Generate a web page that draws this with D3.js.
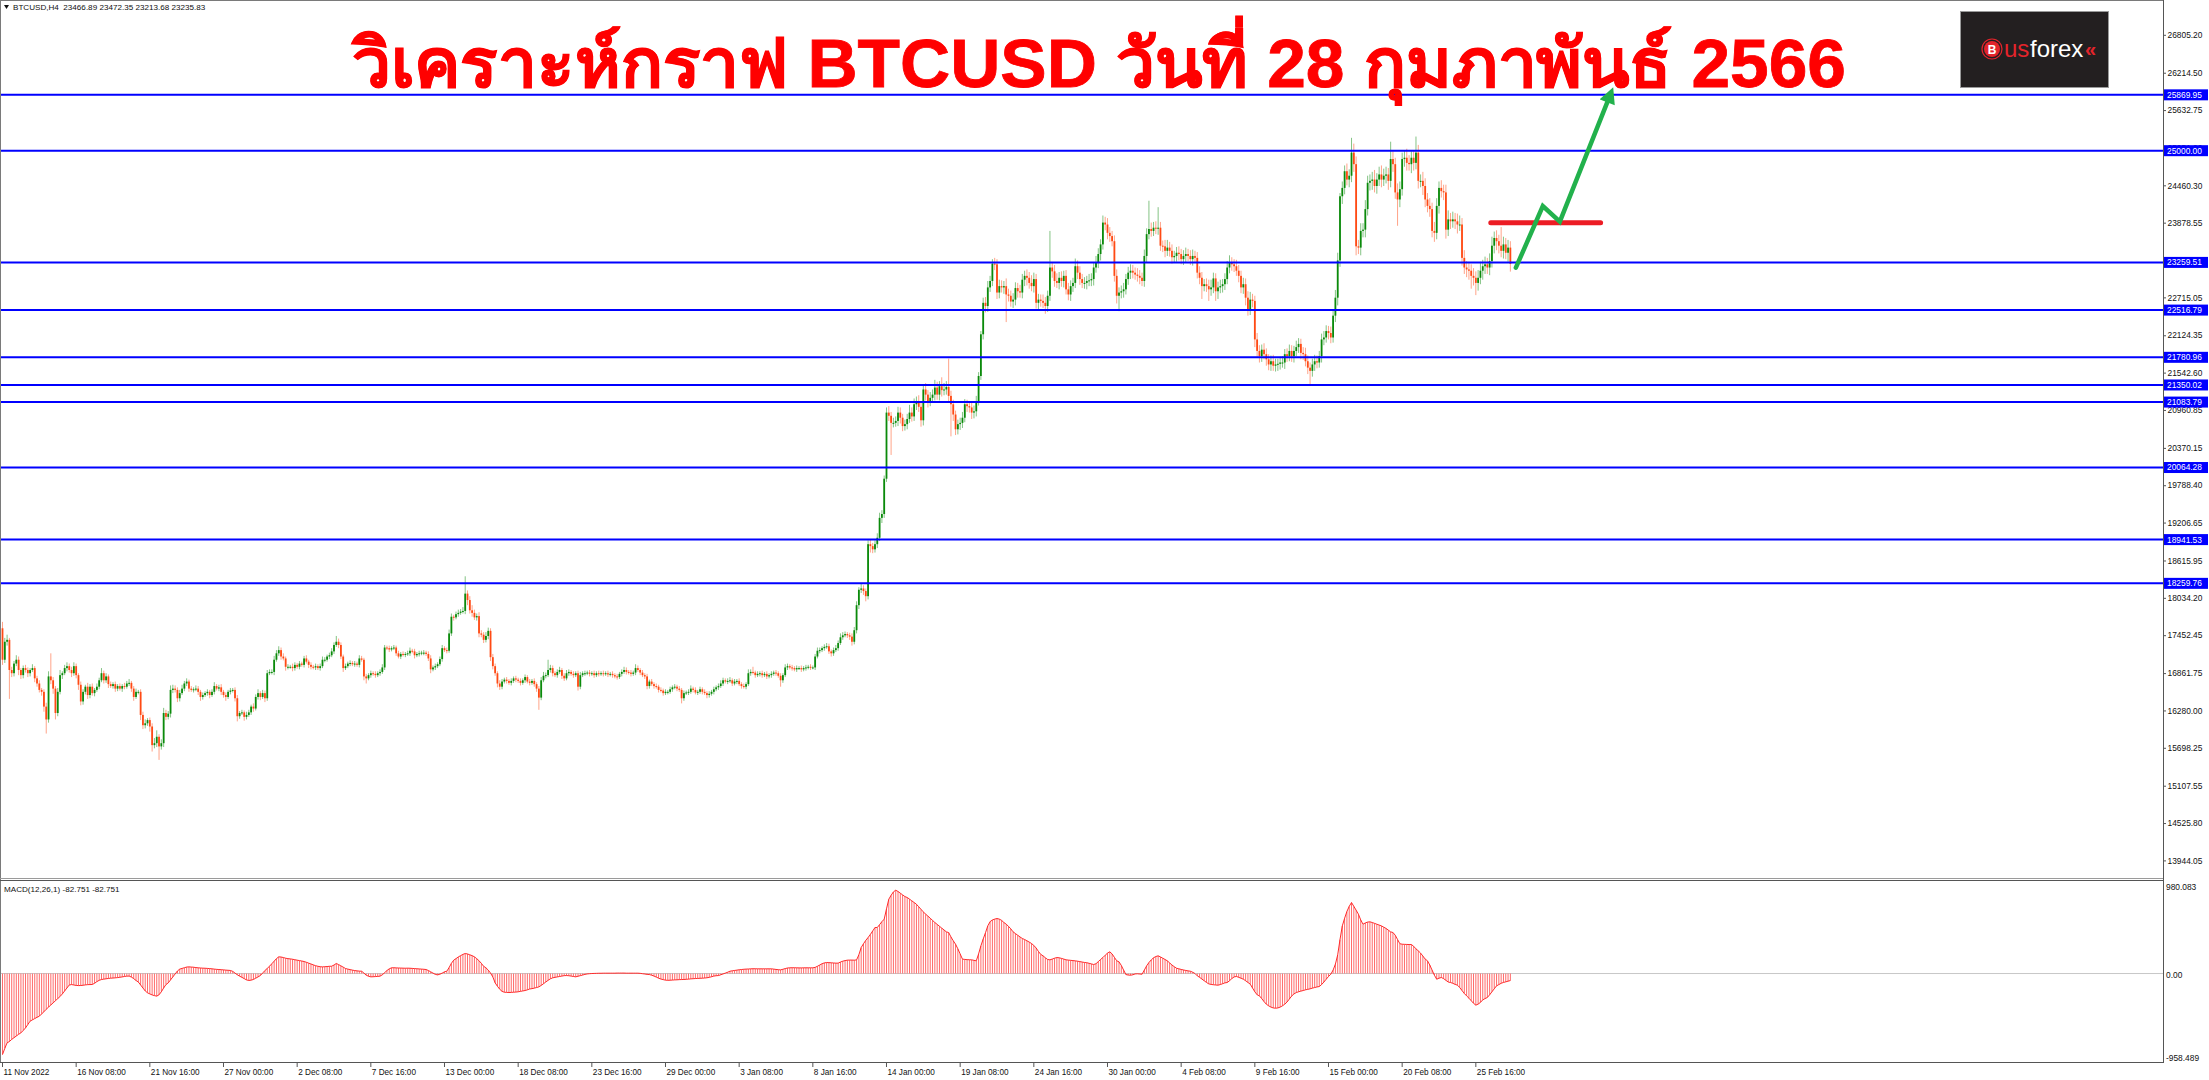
<!DOCTYPE html>
<html><head><meta charset="utf-8">
<script src="https://cdn.jsdelivr.net/npm/d3@7"></script>
<style>
body{margin:0;background:#fff;}
svg{display:block;}
text{font-family:"Liberation Sans",Arial,sans-serif;}
</style>
</head><body>
<svg id="c" width="2209" height="1080"></svg>
<script>
// ---------------- DATA ----------------
const symbolHeader = "BTCUSD,H4  23466.89 23472.35 23213.68 23235.83";
const macdHeader = "MACD(12,26,1) -82.751 -82.751";
const titleText = "วิเคราะห์กราฟ BTCUSD วันที่ 28 กุมภาพันธ์ 2566";
const logoParts = ["us", "forex", "«"];

const dateLabels = ["11 Nov 2022","16 Nov 08:00","21 Nov 16:00","27 Nov 00:00","2 Dec 08:00","7 Dec 16:00","13 Dec 00:00","18 Dec 08:00","23 Dec 16:00","29 Dec 00:00","3 Jan 08:00","8 Jan 16:00","14 Jan 00:00","19 Jan 08:00","24 Jan 16:00","30 Jan 00:00","4 Feb 08:00","9 Feb 16:00","15 Feb 00:00","20 Feb 08:00","25 Feb 16:00"];
const dateLabelIdx = [0,32,64,96,128,160,192,224,256,288,320,352,384,416,448,480,512,544,576,608,640];

const priceTicks = [26805.20,26214.50,25632.75,25051.00,24460.30,23878.55,23296.80,22715.05,22124.35,21542.60,20960.85,20370.15,19788.40,19206.65,18615.95,18034.20,17452.45,16861.75,16280.00,15698.25,15107.55,14525.80,13944.05];
const levels = [25869.95,25000.00,23259.51,22516.79,21780.96,21350.02,21083.79,20064.28,18941.53,18259.76];

const macdTop = 980.083, macdBottom = -958.489;

const firstOpen = 17560;
const closes = [
17070,17350,17380,16910,16860,17010,17070,16910,16830,16940,
16910,16860,16910,16940,16780,16700,16600,16570,16340,16140,
16810,16750,16620,16240,16570,16830,16860,16940,16970,16910,
16860,16970,16830,16680,16420,16570,16650,16520,16650,16550,
16600,16650,16750,16860,16750,16810,16690,16660,16690,16620,
16660,16620,16660,16650,16700,16710,16620,16490,16570,16570,
16210,16050,16080,16130,16030,15740,15770,15870,15720,15770,
16240,16180,16230,16600,16620,16600,16470,16550,16620,16700,
16730,16620,16600,16610,16620,16570,16490,16520,16550,16570,
16520,16570,16660,16620,16640,16570,16520,16490,16570,16590,
16600,16470,16190,16240,16250,16180,16210,16250,16340,16310,
16490,16550,16490,16550,16470,16860,16880,16880,17070,17170,
17220,17120,17090,16960,16960,16960,16940,16990,16960,17010,
16990,17090,17040,16990,16960,16950,16970,16940,16970,17070,
17070,17120,17140,17200,17300,17350,17300,17120,16940,16970,
17010,17020,17000,17010,16990,17090,17070,16810,16780,16830,
16860,16850,16830,16860,16880,16950,17260,17250,17230,17250,
17260,17170,17120,17160,17150,17160,17170,17210,17200,17140,
17160,17170,17180,17180,17160,17090,16920,16950,16970,17000,
17080,17250,17220,17210,17480,17740,17730,17780,17800,17820,
17830,18100,18000,17840,17800,17730,17750,17480,17460,17380,
17440,17520,17110,16970,16860,16700,16650,16730,16760,16740,
16710,16740,16780,16760,16740,16710,16750,16800,16730,16710,
16740,16690,16620,16480,16750,16820,16830,16910,16940,16860,
16830,16880,16910,16820,16780,16860,16880,16850,16830,16860,
16650,16830,16860,16860,16870,16850,16860,16830,16860,16850,
16860,16850,16860,16840,16850,16830,16810,16800,16850,16880,
16910,16880,16870,16850,16870,16940,16910,16870,16830,16810,
16660,16730,16690,16660,16650,16600,16590,16550,16570,16570,
16610,16640,16650,16620,16600,16470,16550,16560,16570,16620,
16600,16560,16570,16610,16570,16550,16520,16540,16570,16610,
16640,16660,16700,16750,16730,16740,16750,16700,16730,16740,
16690,16660,16650,16690,16860,16880,16870,16830,16850,16860,
16830,16850,16810,16830,16850,16870,16860,16820,16750,16830,
16950,16970,16950,16940,16920,16940,16940,16920,16940,16950,
16960,16950,16950,17120,17210,17220,17250,17270,17280,17200,
17170,17220,17250,17330,17420,17450,17470,17450,17430,17350,
17530,17920,18160,18180,18140,18060,18870,18840,18790,18870,
18970,19280,19340,19890,20920,20870,20760,20760,20790,20920,
20840,20710,20740,20820,20920,20860,21050,21070,21010,20800,
21280,21200,21100,21150,21200,21310,21200,21330,21270,21280,
21320,21180,21050,20890,20660,20740,20760,20840,21050,21020,
21000,20920,20940,21100,21490,22140,22630,22580,22870,22970,
23240,23230,22790,22890,22870,22890,22760,22740,22650,22680,
22860,22810,22790,22990,23050,23020,22940,22890,23000,22630,
22680,22660,22630,22580,22740,23180,23120,22970,22940,23020,
22970,23050,22840,22760,22890,22940,23200,23100,23000,22940,
22940,22970,22980,23000,23180,23260,23390,23540,23880,23850,
23720,23670,23590,23050,22740,22790,22810,22840,23000,23100,
23130,23100,23070,23050,23020,22970,23360,23700,23780,23750,
23800,23790,23800,23520,23510,23440,23490,23440,23340,23360,
23410,23390,23310,23360,23390,23360,23310,23360,23330,23100,
23020,22890,22920,22890,22840,22870,23010,22810,22870,22890,
22920,23000,23180,23250,23230,23200,23130,23050,22870,22920,
22710,22530,22680,22660,22060,21880,21800,21900,21830,21750,
21670,21720,21650,21670,21680,21700,21700,21830,21800,21880,
21800,21880,21940,21990,21850,21830,21720,21620,21570,21670,
21720,21700,21800,22060,22090,22190,22160,22090,22430,22710,
23290,24290,24420,24680,24550,24610,24970,24790,23510,23490,
23750,23770,24090,24500,24530,24550,24450,24550,24630,24550,
24610,24630,24530,24870,24790,24350,24240,24400,24870,24890,
24810,24790,24890,24810,24970,24530,24530,24450,24240,24140,
24090,23750,23720,24140,24420,24370,24350,23770,23930,23900,
23930,23900,23850,23850,23330,23180,23150,23130,23050,23020,
22940,23020,23130,23200,23230,23180,23280,23520,23640,23590,
23520,23440,23540,23410,23490,23236];

// upper / lower wick lengths, in units of 10 USD
const wickUp = [
10,6,8,3,5,4,7,5,3,4, 5,4,3,6,3,4,5,3,4,6, 8,36,5,4,6,8,3,5,6,4, 5,6,4,3,5,4,3,6,4,5,
3,5,4,8,4,5,3,4,3,4, 3,4,3,5,4,6,3,4,5,3, 4,5,6,3,4,5,8,10,4,6, 8,5,4,7,6,5,4,5,6,4,
5,3,4,3,5,4,3,4,3,4, 3,4,6,3,4,5,3,4,3,4, 3,4,5,3,4,3,5,4,3,5, 4,6,3,5,4,5,4,4,6,5,
6,4,5,3,4,3,5,4,3,4, 3,4,5,3,4,3,4,3,4,5, 4,3,4,5,4,9,5,4,3,4, 3,4,3,4,3,5,4,3,4,3,
4,3,4,3,4,5,4,3,4,3, 4,3,4,3,4,3,4,5,3,4, 3,4,3,4,3,4,5,3,4,3, 4,5,3,4,6,5,3,4,5,4,
6,27,5,6,8,5,4,6,5,4, 6,5,4,5,4,3,5,4,3,4, 3,4,3,4,3,4,3,4,3,4, 3,4,3,4,5,6,4,16,5,4,
3,4,5,3,4,5,4,3,4,3, 4,5,3,4,3,4,3,4,3,4, 3,4,3,4,3,4,3,4,3,4, 5,4,3,4,3,6,4,3,4,3,
4,3,4,3,4,3,4,3,4,3, 4,3,4,3,4,3,4,3,4,5, 3,4,3,4,3,4,3,4,3,4, 3,4,5,4,3,4,5,3,4,3,
4,3,4,3,6,4,8,3,4,3, 4,3,4,3,4,3,4,3,4,3, 5,4,3,4,3,4,3,4,3,4, 3,4,3,4,5,4,3,4,5,4,
3,4,5,4,6,5,4,3,4,5, 5,6,4,8,5,4,6,8,5,6, 7,8,6,5,8,10,6,8,7,9, 8,6,7,8,12,8,9,10,12,7,
8,10,7,9,8,12,9,8,14,10, 9,44,8,7,6,7,8,9,8,7, 8,7,9,8,6,5,8,9,10,8, 7,9,8,10,9,8,12,9,8,10,
9,8,10,9,8,10,9,12,10,8, 9,8,10,9,8,57,8,10,12,9, 10,8,9,10,9,8,12,9,10,8, 9,8,10,9,8,10,9,8,11,9,
10,9,8,9,10,8,9,10,8,9, 10,9,8,10,9,8,10,9,44,10, 9,10,32,9,8,10,12,9,10,8, 9,10,8,9,10,8,9,10,8,9,
10,9,8,9,10,12,9,8,9,10, 8,9,10,12,9,8,10,9,8,10, 9,10,12,9,8,10,9,8,10,9, 8,9,10,9,8,9,10,8,9,10,
9,8,10,9,8,9,10,9,8,9, 10,9,8,9,10,9,8,10,9,12, 12,5,10,9,12,10,23,14,12,10, 12,10,14,11,10,12,15,10,12,14,
11,12,10,27,12,10,14,12,10,12, 14,12,10,12,25,12,10,14,12,10, 12,10,14,12,10,12,10,12,14,10, 12,10,12,14,10,12,10,12,10,12,
10,12,14,10,12,10,12,14,10,12, 10,29,12,10,12,10];
const wickDn = [
8,5,6,45,6,5,4,8,6,5, 4,6,5,3,6,5,4,6,8,22, 5,6,8,10,5,4,6,3,5,4, 6,4,5,8,6,5,4,6,5,4,
5,3,4,3,5,4,6,3,4,5, 4,3,5,4,3,4,5,6,3,4, 8,6,5,4,8,10,5,6,21,5, 6,5,4,6,5,4,6,5,3,4,
4,5,3,4,3,5,6,4,3,4, 5,3,4,3,4,5,4,6,3,4, 3,5,8,4,3,6,4,3,4,5, 3,4,5,3,6,4,3,4,5,3,
4,5,3,6,4,3,5,4,3,4, 3,4,3,5,4,3,4,3,4,3, 4,3,4,3,4,3,5,4,6,3, 3,4,3,4,3,4,3,6,8,3,
4,3,4,3,4,3,4,3,4,3, 3,4,3,4,3,4,3,4,3,5, 3,4,3,4,3,4,6,3,4,3, 3,4,3,4,3,4,5,3,4,3,
3,5,8,5,6,4,5,6,4,5, 4,5,6,5,4,6,5,4,3,4, 3,4,3,4,3,4,3,4,3,4, 3,4,5,19,4,3,4,3,4,5,
3,4,3,5,4,3,4,3,4,3, 6,4,3,4,3,4,3,4,3,4, 3,4,3,4,3,4,3,4,3,4, 3,4,3,4,3,4,3,4,3,4,
5,4,3,4,3,4,3,4,3,4, 3,4,3,4,3,8,4,3,4,3, 4,3,4,3,4,3,5,4,3,4, 3,4,3,4,3,4,3,4,3,4,
3,4,3,4,3,4,3,4,3,4, 4,3,4,3,4,3,4,3,10,4, 3,4,3,4,3,4,3,4,3,4, 3,4,3,4,3,4,3,4,3,4,
5,4,3,4,3,4,3,4,5,6, 4,5,6,5,6,8,5,10,6,5, 6,5,8,6,5,8,50,7,6,8, 9,8,7,8,6,8,7,9,8,10,
8,9,10,8,7,9,8,9,10,8, 8,9,50,10,9,8,9,8,7,9, 8,10,9,8,7,6,8,10,9,7, 8,9,10,9,8,10,43,9,8,10,
9,10,8,9,10,12,9,8,10,9, 10,9,8,12,9,8,10,9,8,10, 9,10,8,9,10,9,8,10,9,8, 9,10,8,9,10,8,9,10,8,9,
10,9,8,9,12,24,9,10,8,9, 10,9,8,9,10,8,9,10,8,9, 8,9,10,8,9,10,8,9,10,8, 9,10,8,9,10,8,9,10,8,9,
10,20,8,9,18,10,9,15,12,9, 10,9,8,9,10,9,8,10,9,10, 12,10,9,10,12,9,10,9,8,10, 9,10,8,9,10,9,8,10,9,8,
9,10,8,9,10,9,8,10,21,9, 10,9,8,10,9,8,10,9,8,10, 12,10,12,10,9,12,10,12,14,10, 12,10,12,10,12,14,10,12,10,12,
10,12,14,10,12,10,41,12,10,12, 12,10,14,12,10,12,10,14,12,10, 12,10,14,10,12,10,12,14,10,12, 10,12,14,10,12,10,12,14,20,12,
19,12,10,14,12,10,12,10,12,14, 12,10,12,10,14,12];

const macd = [
-953,-880,-815,-800,-775,-755,-735,-715,-698,-670,
-640,-600,-560,-545,-530,-515,-502,-475,-450,-420,
-395,-370,-345,-320,-295,-270,-240,-205,-170,-135,
-130,-135,-140,-142,-141,-138,-134,-131,-130,-129,
-115,-95,-80,-71,-66,-62,-58,-55,-53,-51,
-48,-44,-40,-35,-31,-30,-42,-60,-82,-100,
-135,-170,-205,-227,-240,-252,-260,-266,-250,-215,
-170,-130,-110,-75,-40,-5,30,52,60,68,
76,78,76,74,70,67,65,63,62,60,
58,55,52,49,47,45,43,40,38,36,
25,5,-15,-31,-45,-60,-75,-82,-78,-70,
-55,-40,-24,5,35,60,86,115,145,175,
196,194,188,180,175,172,168,162,157,152,
147,141,132,122,112,102,92,85,80,78,
80,82,85,86,100,118,105,90,75,59,
52,46,40,35,31,28,27,5,-20,-32,
-39,-38,-36,-34,-31,-15,10,35,55,67,
68,66,65,64,63,62,63,62,60,58,
56,54,52,50,47,35,20,5,-10,-16,
-8,5,20,27,70,120,157,175,195,210,
225,235,230,220,210,196,175,150,120,85,
67,40,5,-40,-110,-150,-185,-210,-220,-222,
-224,-222,-220,-218,-215,-210,-205,-200,-192,-182,
-178,-172,-165,-157,-140,-120,-100,-80,-62,-51,
-45,-40,-35,-30,-25,-24,-26,-30,-35,-39,
-32,-25,-18,-10,-5,-2,0,1,2,3,
3,4,4,4,4,4,4,5,5,5,
5,4,4,4,4,4,4,2,-2,-6,
-10,-12,-20,-30,-42,-55,-65,-72,-78,-80,
-79,-77,-75,-74,-72,-71,-70,-68,-66,-63,
-61,-59,-58,-56,-55,-53,-50,-45,-38,-30,
-26,-24,-15,-5,5,15,27,32,36,40,
44,47,50,52,53,55,56,56,55,55,
55,55,55,55,55,52,48,45,43,50,
58,65,67,68,68,67,66,66,67,67,
67,67,67,72,85,100,115,125,129,128,
126,124,122,122,135,145,152,157,158,158,
157,160,220,306,350,390,423,460,500,541,
541,575,610,639,760,874,920,960,980,965,
945,925,905,894,875,855,835,815,785,755,
725,698,675,650,625,600,578,556,534,512,
490,482,430,385,345,290,230,169,166,163,
162,161,155,149,230,325,405,480,560,610,
630,640,647,640,625,600,580,555,525,490,
470,450,430,412,400,385,370,353,330,300,
260,225,208,185,165,161,170,180,188,185,
178,170,161,158,155,152,149,145,140,135,
130,127,120,113,106,115,140,165,188,215,
240,255,230,190,150,137,95,40,-12,-18,
-20,-15,-5,-3,-6,-8,40,90,129,160,
185,200,208,195,180,165,149,125,100,80,
62,55,48,42,36,31,27,15,0,-27,
-45,-65,-85,-105,-122,-128,-132,-135,-137,-130,
-120,-110,-106,-85,-60,-40,-35,-45,-55,-67,
-85,-105,-125,-170,-215,-250,-263,-295,-330,-361,
-380,-395,-405,-408,-405,-395,-380,-361,-335,-300,
-265,-240,-224,-215,-207,-200,-192,-186,-180,-172,
-165,-158,-153,-130,-100,-67,-35,-8,40,110,
220,400,560,650,730,790,835,790,745,698,
630,580,595,605,608,600,590,580,570,560,
545,530,510,490,482,450,400,350,345,343,
342,341,341,320,290,267,240,205,170,149,
100,40,-20,-67,-55,-47,-60,-80,-100,-106,
-115,-128,-137,-165,-200,-235,-263,-290,-320,-350,
-372,-360,-340,-310,-295,-282,-250,-215,-180,-145,
-130,-115,-105,-98,-90,-83];

// hand-drawn annotations (bar index, price)
const resistanceIdx = [646.5, 694.2], resistancePrice = 23878;
const arrowIdx = [657.4, 669.1, 676.5, 697.6];
const arrowPrice = [23177, 24138, 23894, 25800];

// ---------------- DRAW ----------------
const svg = d3.select("#c");
const axisX = 2163;
const n = Math.min(closes.length, wickUp.length, wickDn.length);
const x = d3.scaleLinear().domain([0, 938.5]).range([2.5, axisX]);
const y = d3.scaleLinear().domain([13944.05, 26805.20]).range([860.4, 34.8]);
const ym = d3.scaleLinear().domain([macdBottom, macdTop]).range([1055, 890.2]);

const opens = closes.map((c, i) => i === 0 ? firstOpen : closes[i - 1]);
const highs = closes.map((c, i) => Math.max(opens[i], c) + wickUp[i] * 10);
const lows = closes.map((c, i) => Math.min(opens[i], c) - wickDn[i] * 10);

svg.append("rect").attr("width", 2209).attr("height", 1080).attr("fill", "#fff");

// price axis ticks
const yAxis = d3.axisRight(y).tickValues(priceTicks).tickSize(3).tickPadding(1.5).tickFormat(d3.format(".2f"));
const gy = svg.append("g").attr("transform", `translate(${axisX},0)`).call(yAxis);
gy.select(".domain").remove();
gy.selectAll(".tick line").attr("stroke", "#555");
gy.selectAll(".tick text").attr("font-size", 8.4).attr("fill", "#111").attr("font-family", "Liberation Sans, Arial, sans-serif");

// candles
const cg = svg.append("g");
const bull = "#0b8a0b", bear = "#ff4a14";
for (let i = 0; i < n; i++) {
  const up = closes[i] >= opens[i];
  const col = up ? bull : bear;
  cg.append("line").attr("x1", x(i)).attr("x2", x(i))
    .attr("y1", y(highs[i])).attr("y2", y(lows[i]))
    .attr("stroke", col).attr("stroke-opacity", 0.5).attr("stroke-width", 1);
  const top = y(Math.max(opens[i], closes[i])), bot = y(Math.min(opens[i], closes[i]));
  cg.append("rect").attr("x", x(i) - 0.9).attr("width", 1.8)
    .attr("y", top).attr("height", Math.max(1, bot - top)).attr("fill", col);
}

// horizontal blue levels
const lg = svg.append("g");
levels.forEach(v => {
  lg.append("line").attr("x1", 0).attr("x2", axisX).attr("y1", y(v)).attr("y2", y(v))
    .attr("stroke", "#0000ff").attr("stroke-width", 2);
  lg.append("rect").attr("x", axisX + 1).attr("y", y(v) - 5.5).attr("width", 44).attr("height", 11).attr("fill", "#0000ff");
  lg.append("text").attr("x", axisX + 4).attr("y", y(v)).attr("dy", "0.35em")
    .attr("font-size", 8.4).attr("fill", "#fff").text(v.toFixed(2));
});

// resistance (red) and projected path (green)
svg.append("line").attr("x1", x(resistanceIdx[0])).attr("x2", x(resistanceIdx[1]))
  .attr("y1", y(resistancePrice)).attr("y2", y(resistancePrice))
  .attr("stroke", "#ec1c24").attr("stroke-width", 5).attr("stroke-linecap", "round");
const defs = svg.append("defs");
defs.append("marker").attr("id", "ah").attr("viewBox", "0 0 10 10").attr("refX", 2).attr("refY", 5)
  .attr("markerWidth", 4).attr("markerHeight", 3.6).attr("orient", "auto").attr("markerUnits", "strokeWidth")
  .append("path").attr("d", "M0,0 L10,5 L0,10 Z").attr("fill", "#22b14c");
svg.append("path")
  .attr("d", d3.line().x(d => x(d[0])).y(d => y(d[1]))(arrowIdx.map((v, k) => [v, arrowPrice[k]])))
  .attr("fill", "none").attr("stroke", "#22b14c").attr("stroke-width", 4.5)
  .attr("stroke-linejoin", "miter").attr("stroke-linecap", "round").attr("marker-end", "url(#ah)");

// MACD
const zeroY = ym(0);
svg.append("line").attr("x1", 0).attr("x2", axisX).attr("y1", zeroY).attr("y2", zeroY).attr("stroke", "#c8c8c8").attr("stroke-width", 1);
const mg = svg.append("g");
macd.forEach((v, i) => {
  mg.append("line").attr("x1", x(i)).attr("x2", x(i)).attr("y1", zeroY).attr("y2", ym(v))
    .attr("stroke", "#ff6a6a").attr("stroke-width", 1);
});
svg.append("path").attr("d", d3.line().x((d, i) => x(i)).y(d => ym(d))(macd))
  .attr("fill", "none").attr("stroke", "#ff2a2a").attr("stroke-width", 1);

// frame
const fr = svg.append("g").attr("stroke", "#7a7a7a").attr("fill", "none");
fr.append("line").attr("x1", 0).attr("x2", axisX).attr("y1", 0.5).attr("y2", 0.5);
fr.append("line").attr("x1", 0.5).attr("x2", 0.5).attr("y1", 0).attr("y2", 1063);
fr.append("line").attr("x1", axisX + 0.5).attr("x2", axisX + 0.5).attr("y1", 0).attr("y2", 1063).attr("stroke", "#555");
fr.append("line").attr("x1", 0).attr("x2", axisX).attr("y1", 878.5).attr("y2", 878.5).attr("stroke", "#9a9a9a");
fr.append("line").attr("x1", 0).attr("x2", axisX).attr("y1", 880.5).attr("y2", 880.5).attr("stroke", "#555");
fr.append("line").attr("x1", 0).attr("x2", axisX + 1).attr("y1", 1062.5).attr("y2", 1062.5).attr("stroke", "#555");

// MACD scale labels
const ml = svg.append("g").attr("font-size", 8.4).attr("fill", "#111");
ml.append("text").attr("x", axisX + 3).attr("y", 887.5).attr("dy", "0.35em").text(macdTop.toFixed(3));
ml.append("text").attr("x", axisX + 3).attr("y", zeroY + 1.5).attr("dy", "0.35em").text("0.00");
ml.append("text").attr("x", axisX + 3).attr("y", 1058.5).attr("dy", "0.35em").text(macdBottom.toFixed(3));

// date axis
const dg = svg.append("g");
dateLabelIdx.forEach((d, k) => {
  dg.append("line").attr("x1", x(d)).attr("x2", x(d)).attr("y1", 1063).attr("y2", 1067).attr("stroke", "#555");
  dg.append("text").attr("x", x(d) + 1).attr("y", 1074.5).attr("font-size", 8.2).attr("fill", "#111").text(dateLabels[k]);
});

// header texts
svg.append("path").attr("d", "M4,5 L9,5 L6.5,9 Z").attr("fill", "#111");
svg.append("text").attr("x", 13).attr("y", 10).attr("font-size", 8.1).attr("fill", "#111").attr("xml:space", "preserve").text(symbolHeader);
svg.append("text").attr("x", 4).attr("y", 892).attr("font-size", 8.1).attr("fill", "#111").text(macdHeader);

// title
svg.append("text").attr("x", 1099).attr("y", 87).attr("text-anchor", "middle")
  .attr("font-family", "'Noto Sans Thai','Noto Sans Thai UI','Noto Sans','Loma','Garuda',sans-serif")
  .attr("font-weight", 700).attr("font-size", 68).attr("fill", "#ff0000")
  .attr("stroke", "#ff0000").attr("stroke-width", 0.8)
  .attr("textLength", 1494).attr("lengthAdjust", "spacingAndGlyphs").text(titleText);

// logo
const lgo = svg.append("g");
lgo.append("rect").attr("x", 1960.5).attr("y", 11.5).attr("width", 148).attr("height", 76)
  .attr("fill", "#231f20").attr("stroke", "#9a9a9a").attr("stroke-width", 1);
lgo.append("circle").attr("cx", 1992).attr("cy", 49).attr("r", 8).attr("fill", "#e3242b");
lgo.append("circle").attr("cx", 1992).attr("cy", 49).attr("r", 10).attr("fill", "none").attr("stroke", "#e3242b").attr("stroke-width", 1.2);
lgo.append("text").attr("x", 1992).attr("y", 53.5).attr("text-anchor", "middle").attr("font-size", 12).attr("font-weight", 700).attr("fill", "#fff").text("B");
lgo.append("text").attr("x", 2004).attr("y", 57).attr("font-size", 24).attr("fill", "#e3242b").text(logoParts[0]);
lgo.append("text").attr("x", 2030).attr("y", 57).attr("font-size", 24).attr("fill", "#ffffff").text(logoParts[1]);
lgo.append("text").attr("x", 2085).attr("y", 56).attr("font-size", 20).attr("font-weight", 700).attr("fill", "#e3242b").text(logoParts[2]);
</script>
</body></html>
